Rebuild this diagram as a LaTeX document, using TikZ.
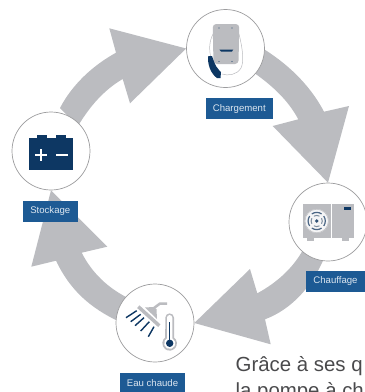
\documentclass[tikz,border=0pt]{standalone}
\usepackage{fontspec}
\setmainfont{Liberation Sans}
\usetikzlibrary{backgrounds}
\definecolor{flow}{HTML}{BBBCC0}
\definecolor{ring}{HTML}{9C9C9E}
\definecolor{tag}{HTML}{1D5A94}
\definecolor{navy}{HTML}{0D3763}
\definecolor{tagtext}{HTML}{DCE6F0}
\definecolor{body}{HTML}{4A4A4C}
\tikzset{
  station/.style={circle,draw=ring,fill=white,line width=0.7pt,minimum size=78pt,inner sep=0pt},
  tagbox/.style={fill=tag,text=tagtext,font=\fontsize{9.6}{11}\selectfont,inner sep=0pt,anchor=center},
  flowarrow/.style={fill=flow,draw=none},
  greyicon/.style={fill=flow,draw=none},
  darkicon/.style={fill=navy,draw=none},
  spray/.style={draw=navy,line width=1.4pt},
  cablewire/.style={draw=flow,line width=0.5pt},
  bodytext/.style={text=body,font=\fontsize{20.4}{22}\selectfont,inner sep=0pt,anchor=base west}
}
\begin{document}
\begin{tikzpicture}[x=1pt,y=-1pt]
\clip (0,0) rectangle (365,392);
\useasboundingbox (0,0) rectangle (365,392);

% stations
\node[station] (top) at (225.5,48.5) {};
\node[station] (left) at (51,151) {};
\node[station] (right) at (328,222) {};
\node[station] (bottom) at (155,323) {};

% flow arrows, behind the stations
\begin{scope}[on background layer]
\fill[flowarrow] (60,108) .. controls (72,85) and (92,66) .. (116,52.7)
  -- (109.3,28.3) -- (top.180) -- (130,103.3) -- (122.7,79)
  .. controls (104,90) and (90,106) .. (78,126) -- cycle;
\fill[flowarrow] (262,48) .. controls (285,62) and (309,83) .. (324,111.7)
  -- (349,106) -- (right.90) -- (272.7,126) -- (298.3,119.3)
  .. controls (288,100) and (272,85) .. (250,70) -- cycle;
\fill[flowarrow] (304,248) .. controls (294,267) and (278,282) .. (257.3,293.3)
  -- (250,269) -- (bottom.0) -- (270.7,344.3) -- (265,319.3)
  .. controls (290,310) and (312,288) .. (325,256) -- cycle;
\fill[flowarrow] (128,298) .. controls (108,288) and (92,273) .. (81.7,252.7)
  -- (107.3,246.7) -- (left.-90) -- (31.3,266.7) -- (56,260.7)
  .. controls (70,290) and (90,308) .. (120,322) -- cycle;
\end{scope}

% wallbox icon
\draw[cablewire] (213,34) .. controls (209,42) and (209,50) .. (211,58);
\draw[cablewire] (239,34) .. controls (243,50) and (244,62) .. (241,68)
  .. controls (237,75) and (228,76) .. (222,74);
\fill[greyicon,rounded corners=3.5pt] (212.7,24) -- (239.3,24) -- (238.5,64) -- (213.5,64) -- cycle;
\fill[darkicon] (219.3,49.5) -- (233.3,49.5) -- (232,51.5) -- (221,51.5) -- cycle;
\foreach \dx/\dy in {219/28,232/28,219/61.5,232/61.5}
  \fill[navy!80!flow] (\dx,\dy) circle (0.7);
\fill[darkicon] (208.3,56) .. controls (207,64) and (211,74) .. (217,78)
  -- (220.5,78) -- (221,72) -- (219,70) .. controls (215,66) and (213.5,60) .. (212,56) -- cycle;

% battery icon
\fill[darkicon] (29,138.3) rectangle (73.3,170);
\fill[darkicon] (36.7,135) rectangle (46.7,139);
\fill[darkicon] (56,135) rectangle (66,139);
\fill[white] (34.7,154) rectangle (46.7,156.2);
\fill[white] (39.6,149) rectangle (41.8,161);
\fill[white] (56,153.6) rectangle (68.3,156.4);

% heat pump icon
\fill[greyicon] (302.7,204.3) rectangle (354.3,238.3);
\fill[greyicon] (306.5,238) rectangle (313.5,240.7);
\fill[greyicon] (341.5,238) rectangle (348.5,240.7);
\fill[white] (331,204.3) rectangle (332.2,238.3);
\fill[darkicon] (344,207.3) rectangle (351,210);
\fill[white!85!flow] (316.7,221) circle (12);
\foreach \a in {0,90,180,270}{
  \draw[navy!65!flow,line width=1.2pt] (316.7,221) ++(\a-35:8.6) arc[start angle=\a-35,end angle=\a+35,radius=8.6];
  \draw[navy!35!flow,line width=1pt] (316.7,221) ++(\a-30:5.6) arc[start angle=\a-30,end angle=\a+30,radius=5.6];
}
\fill[navy!80!flow] (316.7,221) circle (1.9);
\draw[flow,line width=0.5pt] (316.7,221) circle (11.7);

% shower icon
\draw[flow,line width=3.5pt] (138.3,306.7) -- (159.3,325.7);
\fill[greyicon] (145,307.5) -- (157,319) -- (156.5,309) -- (153,307) -- cycle;
\draw[flow,line width=2.5pt] (152,309.5) -- (160,303.5) -- (167,303.5);
\draw[spray] (126,317.7) -- (136.7,310.7);
\draw[spray] (130.7,321.7) -- (140.7,314.3);
\draw[spray] (135,325.7) -- (144,317.7);
\draw[spray] (140.7,331) -- (149.3,321.7);
\draw[spray] (148.3,336.7) -- (154,326.7);
\fill[greyicon] (165.3,317.7) arc[start angle=180,end angle=360,radius=4.35] -- (174,337.5)
  arc[start angle=-53,end angle=233,radius=7.3] -- cycle;
\fill[white] (167,317.7) arc[start angle=180,end angle=360,radius=2.65] -- (172.35,338.4)
  arc[start angle=-62,end angle=242,radius=5.6] -- cycle;
\fill[darkicon] (169,321.7) rectangle (170.4,342);
\fill[darkicon] (169.7,343.3) circle (3.7);

% tags
\node[tagbox,minimum width=66.7pt,minimum height=20.7pt] (tagtop) at (239.3,108.7) {Chargement};
\node[tagbox,minimum width=54.7pt,minimum height=20.7pt] (tagleft) at (50.3,211.3) {Stockage};
\node[tagbox,minimum width=59pt,minimum height=21pt] (tagright) at (335.5,281.2) {Chauffage};
\node[tagbox,minimum width=65pt,minimum height=20pt] (tagbottom) at (152.5,382.7) {Eau chaude};

% clipped body text
\node[bodytext] (line1) at (235.5,371) {Grâce à ses q};
\node[bodytext] (line2) at (235.5,397) {la pompe à ch};
\end{tikzpicture}
\end{document}
